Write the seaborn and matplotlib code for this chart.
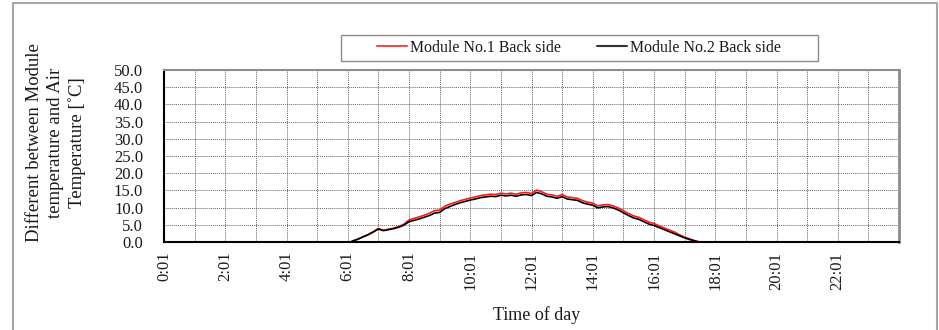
import numpy as np
import pandas as pd
import matplotlib
matplotlib.use("Agg")
import matplotlib.pyplot as plt
from matplotlib.lines import Line2D
from matplotlib.patches import Rectangle
import seaborn as sns

# ---- data (hours since 0:01, 10-minute samples from 6:01 to 17:41) ----
hours = np.arange(6.0, 17.0 + 4 / 6 + 1e-9, 1 / 6)
module1_back = [-0.3, 0.3, 0.9, 1.5, 2.2, 3.0,
                3.9, 3.4, 3.7, 4.0, 4.5, 5.2,
                6.4, 6.9, 7.3, 7.8, 8.4, 9.1,
                9.3, 10.4, 11.0, 11.5, 12.0, 12.4,
                12.8, 13.1, 13.5, 13.7, 13.9, 13.8,
                14.2, 14.0, 14.2, 13.9, 14.3, 14.4,
                14.1, 15.1, 14.6, 13.9, 13.7, 13.3,
                13.8, 13.1, 12.9, 12.7, 12.0, 11.6,
                11.3, 10.5, 10.8, 10.9, 10.5, 9.9,
                9.1, 8.3, 7.6, 7.2, 6.5, 5.8,
                5.4, 4.7, 4.1, 3.5, 2.9, 2.1,
                1.4, 0.9, 0.4, 0.0, -0.5]
module2_back = [-0.3, 0.3, 0.8, 1.5, 2.1, 2.9,
                3.8, 3.3, 3.6, 3.9, 4.3, 4.9,
                5.9, 6.3, 6.7, 7.2, 7.7, 8.4,
                8.6, 9.7, 10.3, 10.9, 11.4, 11.8,
                12.2, 12.5, 12.9, 13.1, 13.3, 13.2,
                13.6, 13.4, 13.6, 13.3, 13.7, 13.8,
                13.5, 14.4, 14.0, 13.3, 13.1, 12.7,
                13.2, 12.5, 12.3, 12.1, 11.4, 11.0,
                10.7, 9.9, 10.2, 10.3, 9.9, 9.3,
                8.5, 7.7, 7.0, 6.6, 5.9, 5.2,
                4.8, 4.2, 3.6, 3.0, 2.4, 1.8,
                1.2, 0.7, 0.3, -0.1, -0.5]
series_names = ["Module No.1 Back side", "Module No.2 Back side"]
series_colors = ["#ff1a1a", "#000000"]
xtick_labels = ["0:01", "2:01", "4:01", "6:01", "8:01", "10:01",
                "12:01", "14:01", "16:01", "18:01", "20:01", "22:01"]
ytick_values = [0, 5, 10, 15, 20, 25, 30, 35, 40, 45, 50]

df = pd.concat([
    pd.DataFrame({"hour": hours, "value": module1_back, "series": series_names[0]}),
    pd.DataFrame({"hour": hours, "value": module2_back, "series": series_names[1]}),
])

sns.set_style("white")
plt.rcParams["font.family"] = ["Liberation Serif", "DejaVu Serif"]
TXT = "#1a1a1a"

fig = plt.figure(figsize=(9.39, 3.30), dpi=100)
ax = fig.add_axes([164 / 939, 1 - 242 / 330, (899 - 164) / 939, (242 - 70) / 330])

sns.lineplot(data=df, x="hour", y="value", hue="series",
             palette=dict(zip(series_names, series_colors)),
             linewidth=1.2, ax=ax, legend=False, sort=False)

ax.set_xlim(0, 24)
ax.set_ylim(0, 50)
ax.set_xticks(range(0, 24))
ax.set_xticklabels([xtick_labels[i // 2] if i % 2 == 0 else "" for i in range(24)],
                   rotation=90, fontsize=12, color=TXT)
ax.set_yticks(ytick_values)
ax.set_yticklabels([f"{v:.1f}" for v in ytick_values], fontsize=12, color=TXT)
ax.tick_params(axis="x", length=0, pad=7)
ax.tick_params(axis="y", length=0, pad=15)
ax.grid(True, color="#666666", linestyle=(0, (1, 1)), linewidth=0.7)
ax.set_axisbelow(True)
ax.set_xlabel("")
ax.set_ylabel("")

for side in ["left", "bottom"]:
    ax.spines[side].set_color("#000000")
    ax.spines[side].set_linewidth(1.5)
ax.spines["top"].set_color("#8c8c8c")
ax.spines["top"].set_linewidth(1.5)
ax.spines["right"].set_color("#8c8c8c")
ax.spines["right"].set_linewidth(2)

fig.text(537 / 939, 1 - 315 / 330, "Time of day", ha="center", va="center",
         fontsize=13, color=TXT)
fig.text(56 / 939, 1 - 143 / 330,
         "Different between Module\ntemperature and Air\nTemperature [˚C]",
         rotation=90, ha="center", va="center", multialignment="center",
         fontsize=13.5, color=TXT, linespacing=1.3)

# legend
fig.patches.append(Rectangle((341 / 939, 1 - 61 / 330), (818 - 341) / 939, 26 / 330,
                             transform=fig.transFigure, fill=False,
                             edgecolor="#8c8c8c", linewidth=1.0))
handles = [Line2D([], [], color=c, linewidth=1.5) for c in ["#e85050", "#333333"]]
leg = fig.legend(handles, series_names, loc="center",
                 bbox_to_anchor=(579 / 939, 1 - 48 / 330), ncol=2, frameon=False,
                 fontsize=11.4, handlelength=1.9, handletextpad=0.2,
                 columnspacing=2.3)
for t in leg.get_texts():
    t.set_color(TXT)

# outer frame
for (x0, y0, x1, y1) in [(13, 3, 937, 3), (13, 3, 13, 330), (937, 3, 937, 330)]:
    fig.lines.append(Line2D([x0 / 939, x1 / 939], [1 - y0 / 330, 1 - y1 / 330],
                            transform=fig.transFigure, color="#a6a6a6", linewidth=1.5))

fig.savefig("out.png", dpi=100)
